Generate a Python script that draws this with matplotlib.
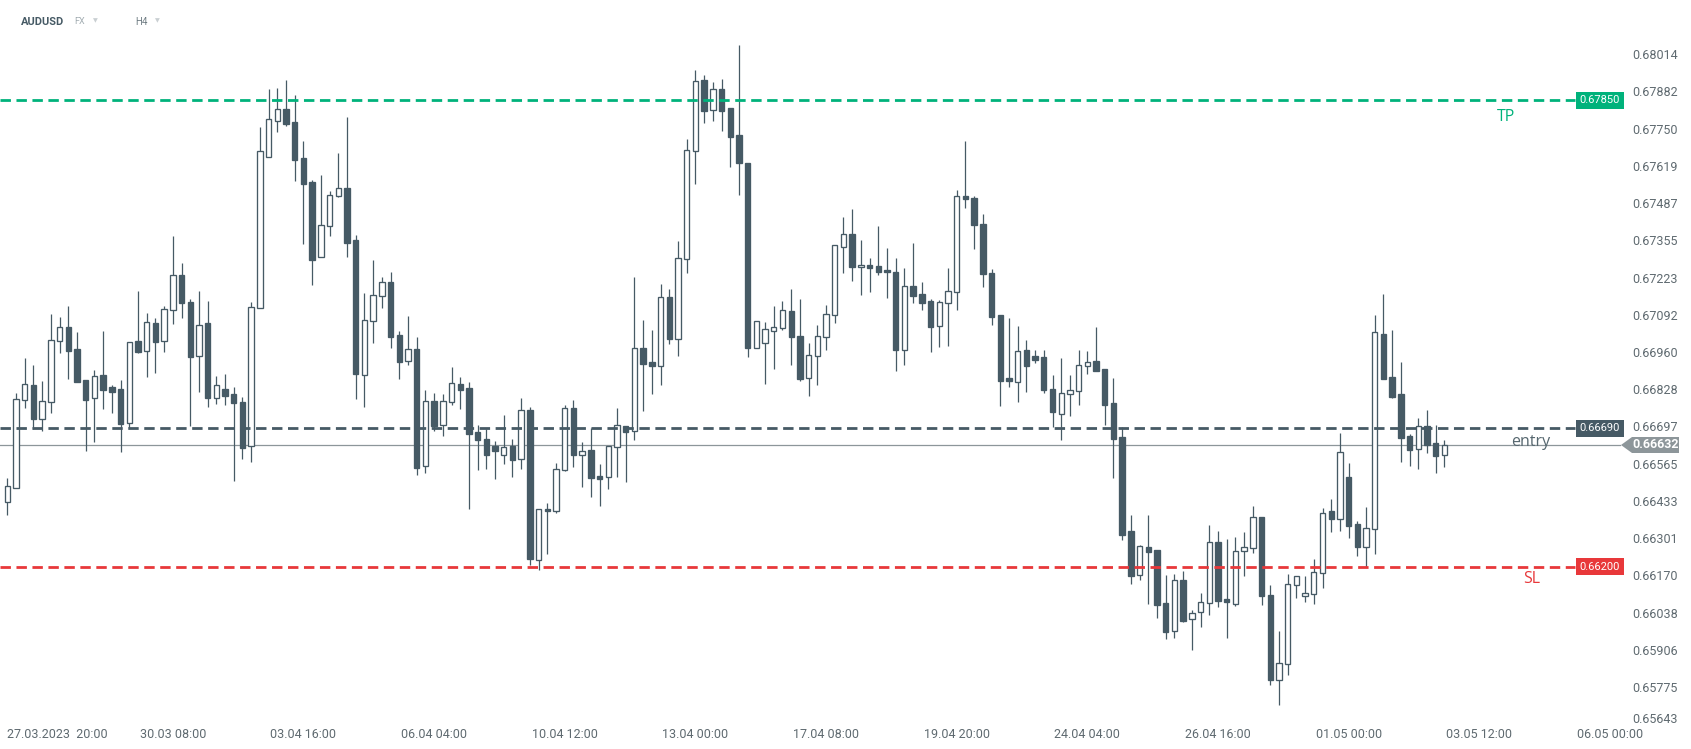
import matplotlib.pyplot as plt
from matplotlib.patches import Polygon
from matplotlib.transforms import ScaledTranslation, blended_transform_factory
import numpy as np

plt.rcParams['font.family'] = ['Roboto', 'DejaVu Sans']
plt.rcParams['lines.scale_dashes'] = False

opens = [0.66428, 0.66478, 0.66789, 0.66842, 0.66722, 0.66782, 0.66998, 0.67047, 0.66970, 0.66860,
         0.66796, 0.66877, 0.66835, 0.66828, 0.66708, 0.66998, 0.66962, 0.67061, 0.66998, 0.67107,
         0.67231, 0.67135, 0.66945, 0.67061, 0.66798, 0.66828, 0.66811, 0.66782, 0.66626, 0.67114,
         0.67651, 0.67778, 0.67818, 0.67772, 0.67645, 0.67560, 0.67295, 0.67404, 0.67510, 0.67539,
         0.67355, 0.66880, 0.67068, 0.67157, 0.67206, 0.67019, 0.66927, 0.66969, 0.66555, 0.66785,
         0.66700, 0.66782, 0.66845, 0.66831, 0.66676, 0.66651, 0.66626, 0.66594, 0.66627, 0.66580,
         0.66754, 0.66223, 0.66405, 0.66396, 0.66541, 0.66761, 0.66594, 0.66612, 0.66521, 0.66517,
         0.66623, 0.66697, 0.66679, 0.66973, 0.66924, 0.66911, 0.67153, 0.67005, 0.67288, 0.67670,
         0.67921, 0.67817, 0.67889, 0.67822, 0.67726, 0.67627, 0.66973, 0.66990, 0.67033, 0.67044,
         0.67104, 0.67015, 0.66867, 0.66945, 0.67012, 0.67090, 0.67330, 0.67376, 0.67259, 0.67266,
         0.67263, 0.67249, 0.67242, 0.66968, 0.67192, 0.67164, 0.67139, 0.67051, 0.67132, 0.67171,
         0.67510, 0.67503, 0.67413, 0.67238, 0.67090, 0.66867, 0.66855, 0.66966, 0.66945, 0.66941,
         0.66828, 0.66742, 0.66810, 0.66821, 0.66909, 0.66927, 0.66899, 0.66778, 0.66659, 0.66326,
         0.66170, 0.66269, 0.66258, 0.66071, 0.65974, 0.66152, 0.66014, 0.66039, 0.66071, 0.66287,
         0.66085, 0.66067, 0.66255, 0.66265, 0.66375, 0.66100, 0.65801, 0.65855, 0.66135, 0.66096,
         0.66103, 0.66177, 0.66396, 0.66368, 0.66517, 0.66350, 0.66269, 0.66333, 0.67022, 0.66870,
         0.66810, 0.66662, 0.66616, 0.66697, 0.66637, 0.66594]
highs = [0.66514, 0.66815, 0.66939, 0.66914, 0.66857, 0.67094, 0.67082, 0.67123, 0.67031, 0.66861,
         0.66896, 0.67034, 0.66843, 0.66861, 0.66994, 0.67176, 0.67098, 0.67080, 0.67123, 0.67370,
         0.67275, 0.67146, 0.67176, 0.67140, 0.66875, 0.66882, 0.66836, 0.66801, 0.67135, 0.67756,
         0.67890, 0.67893, 0.67922, 0.67869, 0.67706, 0.67569, 0.67585, 0.67530, 0.67664, 0.67791,
         0.67374, 0.67168, 0.67285, 0.67225, 0.67243, 0.67034, 0.67087, 0.67013, 0.66825, 0.66815,
         0.66811, 0.66907, 0.66871, 0.66854, 0.66702, 0.66686, 0.66645, 0.66737, 0.66652, 0.66797,
         0.66765, 0.66403, 0.66426, 0.66567, 0.66772, 0.66790, 0.66642, 0.66691, 0.66564, 0.66626,
         0.66762, 0.66697, 0.67225, 0.67073, 0.67038, 0.67200, 0.67183, 0.67352, 0.67713, 0.67957,
         0.67939, 0.67915, 0.67925, 0.67822, 0.68046, 0.67627, 0.67068, 0.67065, 0.67123, 0.67140,
         0.67183, 0.67147, 0.66990, 0.67055, 0.67125, 0.67337, 0.67437, 0.67466, 0.67356, 0.67292,
         0.67405, 0.67328, 0.67292, 0.67256, 0.67345, 0.67207, 0.67146, 0.67144, 0.67256, 0.67533,
         0.67706, 0.67512, 0.67448, 0.67252, 0.67090, 0.67080, 0.67052, 0.67002, 0.66967, 0.66967,
         0.66879, 0.66939, 0.66879, 0.66967, 0.66963, 0.67048, 0.66899, 0.66868, 0.66695, 0.66383,
         0.66276, 0.66383, 0.66258, 0.66171, 0.66175, 0.66185, 0.66046, 0.66108, 0.66348, 0.66327,
         0.66298, 0.66306, 0.66323, 0.66415, 0.66375, 0.66136, 0.65973, 0.66175, 0.66167, 0.66167,
         0.66227, 0.66407, 0.66439, 0.66672, 0.66566, 0.66361, 0.66411, 0.67090, 0.67164, 0.67037,
         0.66923, 0.66669, 0.66725, 0.66754, 0.66701, 0.66647]
lows = [0.66385, 0.66478, 0.66763, 0.66686, 0.66682, 0.66745, 0.66958, 0.66866, 0.66855, 0.66611,
        0.66643, 0.66759, 0.66745, 0.66607, 0.66690, 0.66958, 0.66873, 0.66887, 0.66961, 0.67060,
        0.67081, 0.66699, 0.66820, 0.66766, 0.66777, 0.66774, 0.66505, 0.66583, 0.66572, 0.67114,
        0.67651, 0.67739, 0.67760, 0.67566, 0.67343, 0.67198, 0.67295, 0.67371, 0.67507, 0.67297,
        0.66795, 0.66766, 0.66993, 0.67117, 0.66975, 0.66866, 0.66915, 0.66526, 0.66533, 0.66682,
        0.66664, 0.66774, 0.66759, 0.66406, 0.66544, 0.66547, 0.66512, 0.66565, 0.66519, 0.66547,
        0.66207, 0.66190, 0.66247, 0.66389, 0.66538, 0.66554, 0.66484, 0.66448, 0.66416, 0.66477,
        0.66519, 0.66501, 0.66650, 0.66752, 0.66811, 0.66843, 0.66989, 0.66947, 0.67240, 0.67555,
        0.67771, 0.67778, 0.67743, 0.67615, 0.67516, 0.66943, 0.66973, 0.66848, 0.66901, 0.67036,
        0.66915, 0.66858, 0.66805, 0.66844, 0.66968, 0.67064, 0.67240, 0.67212, 0.67163, 0.67173,
        0.67233, 0.67152, 0.66894, 0.66915, 0.67134, 0.67110, 0.66961, 0.66979, 0.66982, 0.67110,
        0.67470, 0.67325, 0.67191, 0.67057, 0.66770, 0.66837, 0.66784, 0.66820, 0.66922, 0.66816,
        0.66696, 0.66650, 0.66735, 0.66774, 0.66883, 0.66894, 0.66703, 0.66515, 0.66296, 0.66141,
        0.66155, 0.66070, 0.66020, 0.65946, 0.65950, 0.66006, 0.65907, 0.65988, 0.66031, 0.66059,
        0.65950, 0.66063, 0.66169, 0.66250, 0.66066, 0.65783, 0.65713, 0.65819, 0.66091, 0.66077,
        0.66070, 0.66126, 0.66324, 0.66328, 0.66303, 0.66240, 0.66201, 0.66247, 0.66863, 0.66796,
        0.66572, 0.66558, 0.66547, 0.66604, 0.66533, 0.66554]
closes = [0.66485, 0.66792, 0.66846, 0.66724, 0.66785, 0.67001, 0.67047, 0.66965, 0.66855, 0.66791,
          0.66874, 0.66827, 0.66820, 0.66706, 0.66994, 0.66961, 0.67065, 0.66996, 0.67111, 0.67231,
          0.67134, 0.66943, 0.67054, 0.66798, 0.66842, 0.66805, 0.66778, 0.66621, 0.67118, 0.67670,
          0.67783, 0.67818, 0.67767, 0.67640, 0.67555, 0.67286, 0.67408, 0.67514, 0.67539, 0.67346,
          0.66883, 0.67072, 0.67160, 0.67206, 0.67014, 0.66926, 0.66969, 0.66551, 0.66785, 0.66699,
          0.66785, 0.66849, 0.66827, 0.66671, 0.66650, 0.66597, 0.66611, 0.66623, 0.66579, 0.66754,
          0.66227, 0.66403, 0.66396, 0.66545, 0.66761, 0.66597, 0.66609, 0.66515, 0.66512, 0.66626,
          0.66701, 0.66678, 0.66973, 0.66919, 0.66911, 0.67153, 0.67005, 0.67291, 0.67673, 0.67917,
          0.67813, 0.67889, 0.67813, 0.67721, 0.67629, 0.66973, 0.67068, 0.67040, 0.67047, 0.67107,
          0.67012, 0.66866, 0.66948, 0.67015, 0.67093, 0.67337, 0.67376, 0.67262, 0.67266, 0.67258,
          0.67244, 0.67242, 0.66968, 0.67192, 0.67159, 0.67134, 0.67049, 0.67135, 0.67174, 0.67510,
          0.67500, 0.67410, 0.67237, 0.67085, 0.66858, 0.66858, 0.66962, 0.66912, 0.66933, 0.66827,
          0.66749, 0.66814, 0.66824, 0.66913, 0.66923, 0.66894, 0.66774, 0.66653, 0.66314, 0.66169,
          0.66273, 0.66254, 0.66066, 0.65971, 0.66152, 0.66010, 0.66038, 0.66075, 0.66287, 0.66080,
          0.66077, 0.66255, 0.66269, 0.66375, 0.66098, 0.65801, 0.65859, 0.66138, 0.66167, 0.66106,
          0.66181, 0.66389, 0.66370, 0.66605, 0.66346, 0.66271, 0.66336, 0.67029, 0.66866, 0.66802,
          0.66657, 0.66614, 0.66697, 0.66632, 0.66593, 0.66632]

time_ticks = [4, 19, 34, 49, 64, 79, 94, 109, 124, 139, 154, 169, 184]
time_labels = ['27.03.2023  20:00', '30.03 08:00', '03.04 16:00', '06.04 04:00', '10.04 12:00',
               '13.04 00:00', '17.04 08:00', '19.04 20:00', '24.04 04:00', '26.04 16:00',
               '01.05 00:00', '03.05 12:00', '06.05 00:00']
price_ticks = [0.68014, 0.67882, 0.67750, 0.67619, 0.67487, 0.67355, 0.67223, 0.67092, 0.66960,
               0.66828, 0.66697, 0.66565, 0.66433, 0.66301, 0.66170, 0.66038, 0.65906, 0.65775,
               0.65643]

tp = 0.67850
entry = 0.66690
sl = 0.66200
last = 0.66632

DARK = '#465a65'
GREEN = '#00b27b'
RED = '#e8383a'
GREY = '#8d969a'
TXT = '#5f6a70'

o = np.array(opens)
h = np.array(highs)
l = np.array(lows)
c = np.array(closes)
x = np.arange(len(o))
up = c >= o
bottom = np.minimum(o, c)
height = np.maximum(np.abs(c - o), 0.000012)

fig = plt.figure(figsize=(16.91, 7.49), dpi=100)
ax = fig.add_axes([0, 1 - 725 / 749, 1625 / 1691, 725 / 749])
ax.set_xlim(-0.84, 185.73)
ax.set_ylim(0.656407, 0.682047)

ax.vlines(x, l, h, color=DARK, lw=0.9, zorder=2)
ax.bar(x[up], height[up], bottom=bottom[up], width=0.62, facecolor='white',
       edgecolor=DARK, linewidth=0.95, zorder=3)
ax.bar(x[~up], height[~up], bottom=bottom[~up], width=0.62, facecolor=DARK,
       edgecolor=DARK, linewidth=0.95, zorder=3)

# levels
ax.axhline(last, xmin=0, xmax=1620 / 1625, color=GREY, lw=0.9, zorder=1)
for lvl, col in [(tp, GREEN), (entry, DARK), (sl, RED)]:
    ax.axhline(lvl, xmin=0, xmax=1575 / 1625, color=col, lw=2.0,
               dashes=(7.5, 4.0), zorder=4)

tr = blended_transform_factory(ax.transAxes, ax.transData)
for lvl, col, txt in [(tp, GREEN, '0.67850'), (entry, DARK, '0.66690'), (sl, RED, '0.66200')]:
    ax.text(1600 / 1625, lvl, txt, transform=tr, ha='center', va='center', fontsize=8,
            color='white', zorder=6,
            bbox=dict(boxstyle='square,pad=0.32', fc=col, ec='none'))

ax.text(1506 / 1625, 0.67850 - 0.00058, 'TP', transform=tr, ha='center', va='center',
        fontsize=11.5, color=GREEN, family='Open Sans')
ax.text(1531 / 1625, 0.66690 - 0.00049, 'entry', transform=tr, ha='center', va='center',
        fontsize=11.5, color='#56676f', family='Open Sans')
ax.text(1532 / 1625, 0.66200 - 0.00044, 'SL', transform=tr, ha='center', va='center',
        fontsize=11.5, color=RED, family='Open Sans')

# current price marker
pts = [(1621, 445), (1632, 437), (1679, 437), (1679, 453), (1632, 453)]
poly = Polygon([(px / 100, (749 - py) / 100) for px, py in pts], closed=True,
               transform=fig.dpi_scale_trans, fc=GREY, ec='none', zorder=10)
fig.patches.append(poly)
fig.text(1656 / 1691, 1 - 445 / 749, '0.66632', ha='center', va='center', fontsize=9,
         color='white', fontweight='bold', zorder=11)

# axes
for s in ax.spines.values():
    s.set_visible(False)
ax.yaxis.tick_right()
ax.set_yticks(price_ticks)
ax.set_yticklabels([f'{p:.5f}' for p in price_ticks])
ax.set_xticks(time_ticks)
ax.set_xticklabels(time_labels)
ax.tick_params(axis='y', length=0, pad=5, labelsize=9, labelcolor=TXT)
ax.tick_params(axis='x', length=0, pad=2, labelsize=9, labelcolor=TXT)
ylbls = ax.get_yticklabels()
ylbls[-1].set_transform(ylbls[-1].get_transform() + ScaledTranslation(0, 6 / 100, fig.dpi_scale_trans))
xlbls = ax.get_xticklabels()
xlbls[0].set_transform(xlbls[0].get_transform() + ScaledTranslation(15 / 100, 0, fig.dpi_scale_trans))

# header
fig.text(21 / 1691, 1 - 22 / 749, 'AUDUSD', fontsize=8, fontweight='bold', color=DARK,
         ha='left', va='center')
fig.text(74 / 1691, 1 - 22 / 749, 'FX', fontsize=6.5, color='#a3adb2', ha='left', va='center')
fig.text(95 / 1691, 1 - 21 / 749, '▼', fontsize=4.5, color='#c9cfd2', ha='center', va='center',
         family='DejaVu Sans')
fig.text(135 / 1691, 1 - 22 / 749, 'H4', fontsize=7, color='#6f7c83', ha='left', va='center')
fig.text(157 / 1691, 1 - 21 / 749, '▼', fontsize=4.5, color='#c9cfd2', ha='center', va='center',
         family='DejaVu Sans')

fig.savefig('out.png', dpi=100)
